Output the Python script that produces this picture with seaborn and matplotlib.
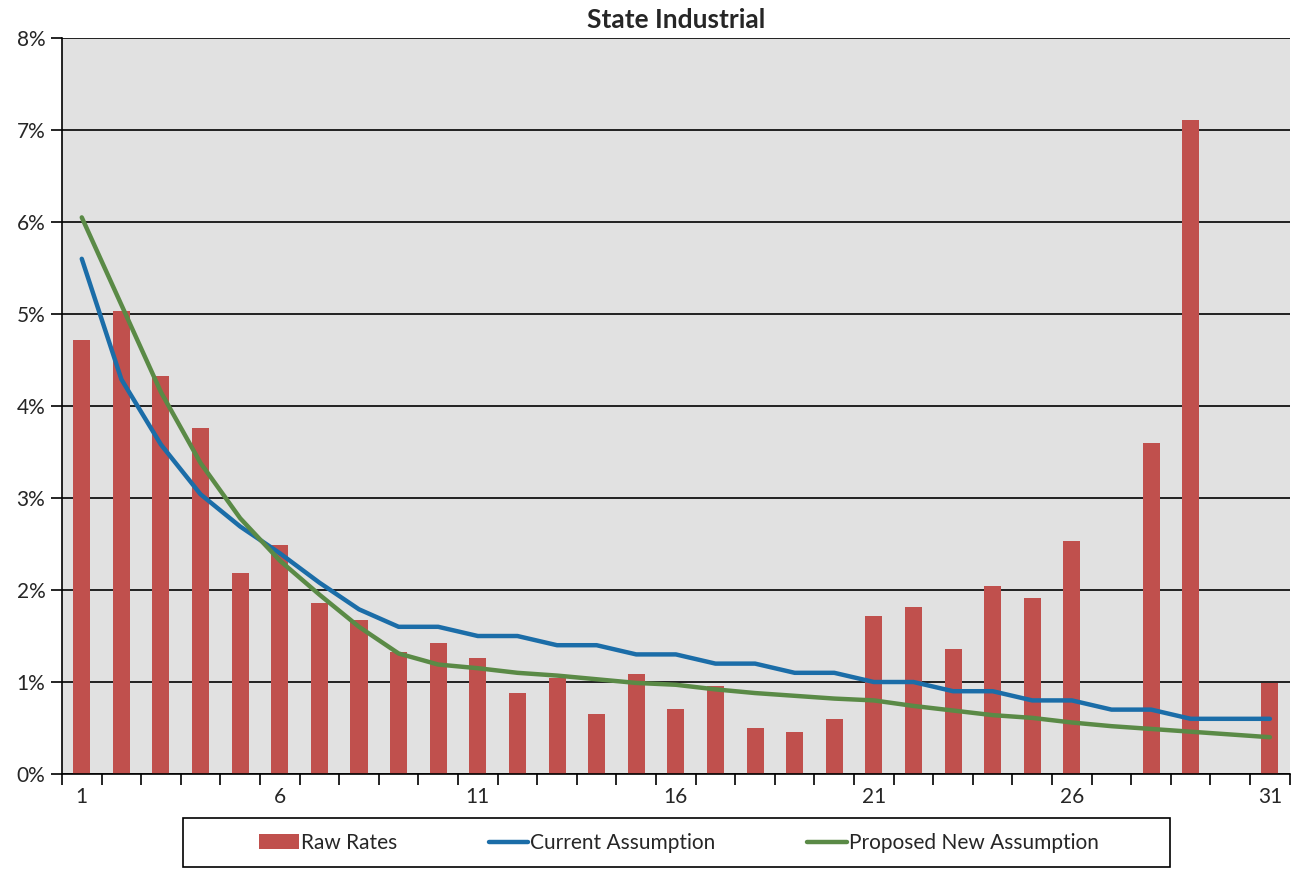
import numpy as np
import pandas as pd
import seaborn as sns
import matplotlib.pyplot as plt
from matplotlib.patches import Rectangle
from matplotlib.ticker import FixedLocator, FuncFormatter

# Data (values in percent)
periods = list(range(1, 32))
raw_rates = [4.72, 5.03, 4.33, 3.76, 2.18, 2.49, 1.86, 1.67, 1.33, 1.42,
             1.26, 0.88, 1.04, 0.65, 1.09, 0.71, 0.96, 0.50, 0.46, 0.60,
             1.72, 1.81, 1.36, 2.04, 1.91, 2.53, 0.00, 3.60, 7.11, 0.00,
             0.99]
current_assumption = [5.60, 4.29, 3.58, 3.04, 2.69, 2.40, 2.08, 1.79, 1.60, 1.60,
                      1.50, 1.50, 1.40, 1.40, 1.30, 1.30, 1.20, 1.20, 1.10, 1.10,
                      1.00, 1.00, 0.90, 0.90, 0.80, 0.80, 0.70, 0.70, 0.60, 0.60,
                      0.60]
proposed_assumption = [6.05, 5.10, 4.15, 3.38, 2.78, 2.32, 1.95, 1.60, 1.31, 1.19,
                       1.15, 1.10, 1.07, 1.03, 0.99, 0.97, 0.92, 0.88, 0.85, 0.82,
                       0.80, 0.74, 0.69, 0.64, 0.61, 0.56, 0.52, 0.49, 0.46, 0.43,
                       0.40]
x_labels = [1, 6, 11, 16, 21, 26, 31]
y_ticks = list(range(0, 9))

df = pd.DataFrame({'Period': periods,
                   'Raw': raw_rates,
                   'Current': current_assumption,
                   'Proposed': proposed_assumption})

sns.set_style('white')
plt.rcParams['font.family'] = ['Lato', 'DejaVu Sans']

bar_color = '#C0504D'
blue = '#1B6DA8'
green = '#5A8A46'

fig = plt.figure(figsize=(12.91, 8.69), dpi=100)
ax = fig.add_axes([0.048, 0.1093, 0.951, 0.847])
ax.set_facecolor('#E1E1E1')

sns.barplot(data=df, x='Period', y='Raw', native_scale=True, width=0.43,
            color=bar_color, saturation=1, linewidth=0, ax=ax,
            label='Raw Rates', zorder=2)
sns.lineplot(data=df, x='Period', y='Current', color=blue, linewidth=3.2,
             ax=ax, label='Current Assumption', zorder=3)
sns.lineplot(data=df, x='Period', y='Proposed', color=green, linewidth=3.2,
             ax=ax, label='Proposed New Assumption', zorder=4)

ax.set_xlim(0.5, 31.5)
ax.set_ylim(0, 8)
ax.set_xlabel('')
ax.set_ylabel('')

# x axis: labels at selected periods, tick marks between categories
ax.xaxis.set_major_locator(FixedLocator(x_labels))
ax.xaxis.set_minor_locator(FixedLocator(np.arange(0.5, 32, 1)))
ax.tick_params(axis='x', which='major', length=0, labelsize=15, pad=9)
ax.tick_params(axis='x', which='minor', length=8, width=1.2, color='black',
               direction='out', bottom=True)

ax.yaxis.set_major_locator(FixedLocator(y_ticks))
ax.yaxis.set_major_formatter(FuncFormatter(lambda v, p: f'{v:.0f}%'))
ax.tick_params(axis='y', length=8, width=1.2, color='black', direction='out',
               left=True, labelsize=15, pad=4)
ax.yaxis.grid(True, color='black', linewidth=1.2)
ax.set_axisbelow(True)

for side in ['top', 'right']:
    ax.spines[side].set_visible(False)
for side in ['left', 'bottom']:
    ax.spines[side].set_color('black')
    ax.spines[side].set_linewidth(1.2)

ax.set_title('State Industrial', fontsize=19, fontweight='bold', pad=7)

# Legend below the chart inside a rectangular box
handles, labels = ax.get_legend_handles_labels()
ax.get_legend().remove()
order = [labels.index(name) for name in
         ['Raw Rates', 'Current Assumption', 'Proposed New Assumption']]
handles = [handles[i] for i in order]
labels = [labels[i] for i in order]
fig.patches.append(Rectangle((183 / 1291, 2 / 869), 987 / 1291, 49 / 869,
                             transform=fig.transFigure, fill=False,
                             edgecolor='black', linewidth=1.2))
fig.legend(handles, labels, loc='center', bbox_to_anchor=(679 / 1291, 26 / 869),
           ncol=3, frameon=False, fontsize=15, handlelength=1.9,
           handleheight=0.75, handletextpad=0.1, columnspacing=4.4)

fig.savefig('out.png', dpi=100)
